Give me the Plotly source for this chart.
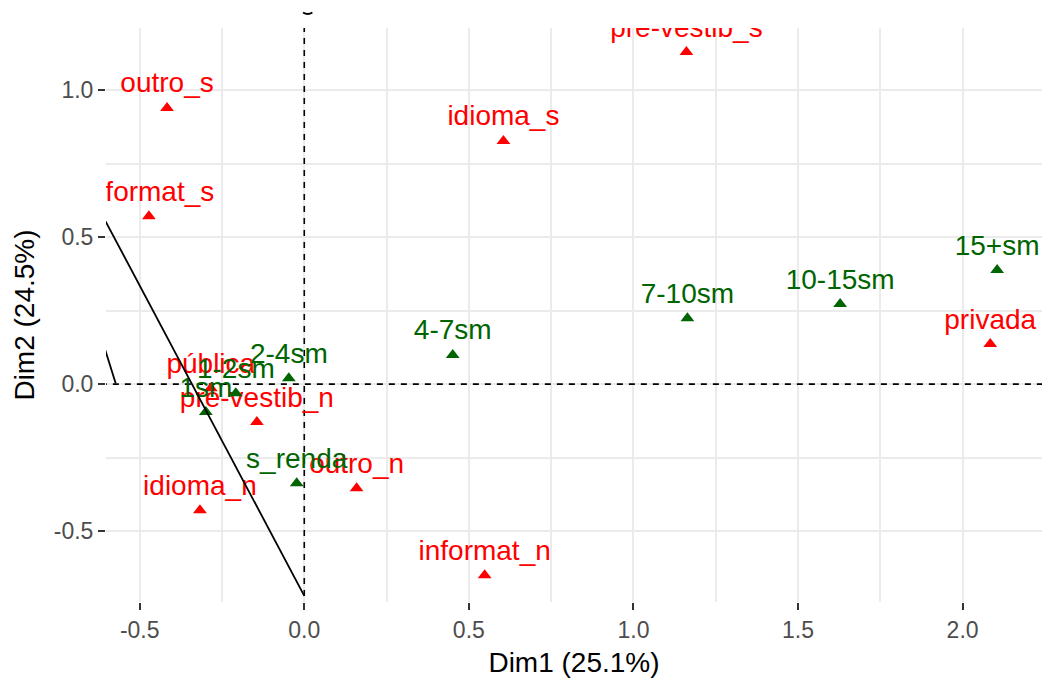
import plotly.graph_objects as go

# Active categories (red) and supplementary income categories (green)
act_labels = ["outro_s", "informat_s", "pre-vestib_s", "idioma_s", "privada",
              "pública", "pre-vestib_n", "idioma_n", "outro_n", "informat_n"]
act_dim1 = [-0.417, -0.472, 1.161, 0.605, 2.084, -0.284, -0.144, -0.317, 0.159, 0.548]
act_dim2 = [0.939, 0.571, 1.129, 0.827, 0.136, -0.014, -0.129, -0.429, -0.354, -0.650]

sup_labels = ["15+sm", "10-15sm", "7-10sm", "4-7sm", "2-4sm", "1-2sm", "1sm", "s_renda"]
sup_dim1 = [2.105, 1.628, 1.164, 0.451, -0.047, -0.208, -0.299, -0.023]
sup_dim2 = [0.388, 0.272, 0.224, 0.099, 0.020, -0.031, -0.095, -0.337]

# Reference segments drawn in black
seg1_x = [-0.70, 0.0]
seg1_y = [0.757, -0.72]
seg2_x = [-0.62, -0.573]
seg2_y = [0.17, 0.003]

# Axis ticks (hyphen-minus labels)
x_ticks = [-0.5, 0.0, 0.5, 1.0, 1.5, 2.0]
x_ticktext = ["-0.5", "0.0", "0.5", "1.0", "1.5", "2.0"]
y_ticks = [-0.5, 0.0, 0.5, 1.0]
y_ticktext = ["-0.5", "0.0", "0.5", "1.0"]

x_range = [-0.6024, 2.2413]
y_range = [-0.741, 1.211]

FONT = "Liberation Sans, Arial, sans-serif"

fig = go.Figure()

# dashed origin lines
fig.add_trace(go.Scatter(x=[x_range[0] - 1, x_range[1] + 1], y=[0, 0], mode="lines",
                         line=dict(color="black", width=1.6, dash="6px,6px"),
                         hoverinfo="skip", showlegend=False))
fig.add_trace(go.Scatter(x=[0, 0], y=[y_range[0] - 1, y_range[1] + 1], mode="lines",
                         line=dict(color="black", width=1.6, dash="6px,6px"),
                         hoverinfo="skip", showlegend=False))

fig.add_trace(go.Scatter(
    x=act_dim1, y=act_dim2, mode="markers+text", text=act_labels,
    textposition="top center",
    textfont=dict(family=FONT, size=28, color="#FF0000"),
    marker=dict(symbol="triangle-up", size=12, color="#FF0000"),
    showlegend=False))

fig.add_trace(go.Scatter(
    x=sup_dim1, y=sup_dim2, mode="markers+text", text=sup_labels,
    textposition="top center",
    textfont=dict(family=FONT, size=28, color="#006400"),
    marker=dict(symbol="triangle-up", size=12, color="#006400"),
    showlegend=False))

for sx, sy in [(seg1_x, seg1_y), (seg2_x, seg2_y)]:
    fig.add_trace(go.Scatter(x=sx, y=sy, mode="lines",
                             line=dict(color="black", width=1.8),
                             hoverinfo="skip", showlegend=False))

axis_common = dict(
    showgrid=True, gridcolor="#EBEBEB", gridwidth=2,
    minor=dict(showgrid=True, gridcolor="#EBEBEB", gridwidth=1.6, dtick=0.25, tick0=0),
    zeroline=False, showline=False,
    ticks="outside", ticklen=7, tickwidth=2, tickcolor="#333333",
    tickfont=dict(family=FONT, size=23, color="#4D4D4D"),
    tickmode="array",
)

fig.update_xaxes(range=x_range, tickvals=x_ticks, ticktext=x_ticktext,
                 title=dict(text="Dim1 (25.1%)", font=dict(family=FONT, size=28, color="black"),
                            standoff=10),
                 **axis_common)
fig.update_yaxes(range=y_range, tickvals=y_ticks, ticktext=y_ticktext,
                 title=dict(text="Dim2 (24.5%)", font=dict(family=FONT, size=28, color="black"),
                            standoff=10),
                 **axis_common)

# small mark above the panel
fig.add_shape(type="path", xref="paper", yref="paper",
              path="M 0.2105 1.027 Q 0.2155 1.022 0.2205 1.027",
              line=dict(color="black", width=2))

fig.update_layout(
    width=1042, height=679,
    margin=dict(l=106, r=0, t=28, b=77),
    paper_bgcolor="white", plot_bgcolor="white",
    font=dict(family=FONT),
)

fig.write_html("out.html")
